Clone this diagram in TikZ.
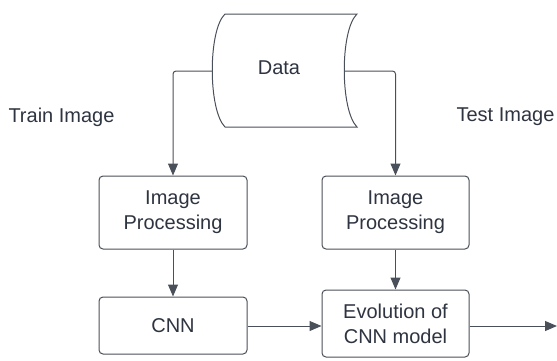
\documentclass[tikz,border=0pt]{standalone}
\usepackage{fontspec}
\setmainfont{Liberation Sans}
\usetikzlibrary{arrows.meta}
\definecolor{edge}{HTML}{4A5059}
\definecolor{ink}{HTML}{2E3440}
\tikzset{
  procbox/.style={draw=edge, line width=1pt, rounded corners=4pt, fill=white,
    inner sep=0pt, align=center, text=ink,
    font=\fontsize{20}{25}\selectfont},
  label/.style={text=ink, inner sep=0pt, font=\fontsize{20}{25}\selectfont},
  conn/.style={draw=edge, line width=1pt, rounded corners=3pt,
    -{Triangle[length=12pt,width=10pt]}},
}
\begin{document}
\begin{tikzpicture}[x=1pt,y=-1pt]
\useasboundingbox (0,0) rectangle (557,360);
% storage cylinder
\draw[edge, line width=1pt, fill=white]
  (225,14) -- (357,14) .. controls (340,30) and (340,110) .. (357,127)
  -- (225,127) .. controls (208,110) and (208,30) .. (225,14) -- cycle;
\node[label] (data) at (279,68) {Data};
\coordinate (dataL) at (212.5,71);
\coordinate (dataR) at (344.5,71);
% side labels
\node[label] (train) at (61.5,117) {Train Image};
\node[label] (test) at (505.5,117) {Test Image};
% processing boxes
\node[procbox, minimum width=148pt, minimum height=73pt] (ipL) at (173,212.5) {Image\\Processing};
\node[procbox, minimum width=147pt, minimum height=73pt] (ipR) at (395.5,212.5) {Image\\Processing};
\node[procbox, minimum width=148pt, minimum height=57pt] (cnn) at (173,325.5) {CNN};
\node[procbox, minimum width=147pt, minimum height=67pt] (eval) at (395.5,323.5) {Evolution of\\CNN model};
\coordinate (out) at (557,326);
% connectors
\draw[conn] (dataL) -| (ipL.north);
\draw[conn] (dataR) -| (ipR.north);
\draw[conn] (ipL.south) -- (cnn.north);
\draw[conn] (ipR.south) -- (eval.north);
\draw[conn] (cnn.east |- out) -- (eval.west |- out);
\draw[conn] (eval.east |- out) -- (out);
\end{tikzpicture}
\end{document}
